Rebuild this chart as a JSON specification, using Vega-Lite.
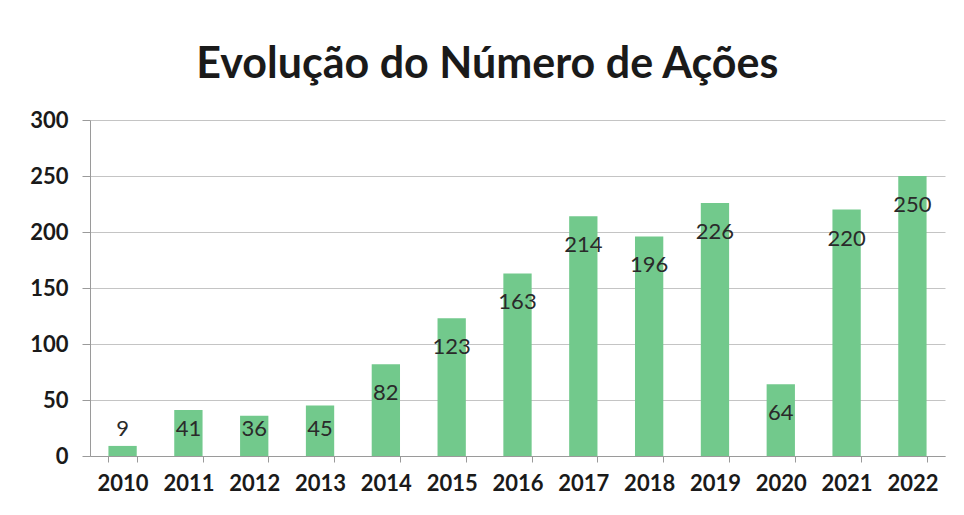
{
  "$schema": "https://vega.github.io/schema/vega-lite/v6.json",
  "autosize": "none",
  "width": 855,
  "height": 336,
  "padding": {"left": 90, "top": 120, "right": 19, "bottom": 59},
  "background": "white",
  "title": {
    "text": "Evolução do Número de Ações",
    "font": "Lato",
    "fontSize": 43,
    "fontWeight": "bold",
    "color": "#1a1a1a",
    "anchor": "middle",
    "frame": "bounds",
    "offset": 22
  },
  "data": {
    "values": [
      {"ano": "2010", "acoes": 9},
      {"ano": "2011", "acoes": 41},
      {"ano": "2012", "acoes": 36},
      {"ano": "2013", "acoes": 45},
      {"ano": "2014", "acoes": 82},
      {"ano": "2015", "acoes": 123},
      {"ano": "2016", "acoes": 163},
      {"ano": "2017", "acoes": 214},
      {"ano": "2018", "acoes": 196},
      {"ano": "2019", "acoes": 226},
      {"ano": "2020", "acoes": 64},
      {"ano": "2021", "acoes": 220},
      {"ano": "2022", "acoes": 250}
    ]
  },
  "encoding": {
    "x": {
      "field": "ano",
      "type": "nominal",
      "sort": null,
      "scale": {"paddingInner": 0.57, "paddingOuter": 0.28},
      "axis": {
        "title": null,
        "labelAngle": 0,
        "labelFont": "Lato",
        "labelFontSize": 22,
        "labelFontWeight": "bold",
        "labelColor": "#1a1a1a",
        "labelPadding": 11,
        "domainColor": "#9a9a9a",
        "tickColor": "#9a9a9a",
        "tickBand": "extent",
        "tickSize": 6,
        "grid": false
      }
    }
  },
  "layer": [
    {
      "mark": {"type": "bar", "color": "#72c98c"},
      "encoding": {
        "y": {
          "field": "acoes",
          "type": "quantitative",
          "scale": {"domain": [0, 300]},
          "axis": {
            "title": null,
            "values": [0, 50, 100, 150, 200, 250, 300],
            "labelFont": "Lato",
            "labelFontSize": 22,
            "labelFontWeight": "bold",
            "labelColor": "#1a1a1a",
            "labelPadding": 14,
            "domainColor": "#9a9a9a",
            "tickColor": "#9a9a9a",
            "tickSize": 8,
            "gridColor": "#c4c4c4",
            "gridWidth": 1
          }
        }
      }
    },
    {
      "transform": [{"calculate": "max(datum.acoes, 50)", "as": "pos"}],
      "mark": {
        "type": "text",
        "font": "Lato",
        "fontSize": 22,
        "color": "#2a2a2a",
        "baseline": "middle",
        "dy": 29
      },
      "encoding": {
        "y": {"field": "pos", "type": "quantitative"},
        "text": {"field": "acoes", "type": "quantitative"}
      }
    }
  ],
  "config": {"view": {"stroke": null}}
}
